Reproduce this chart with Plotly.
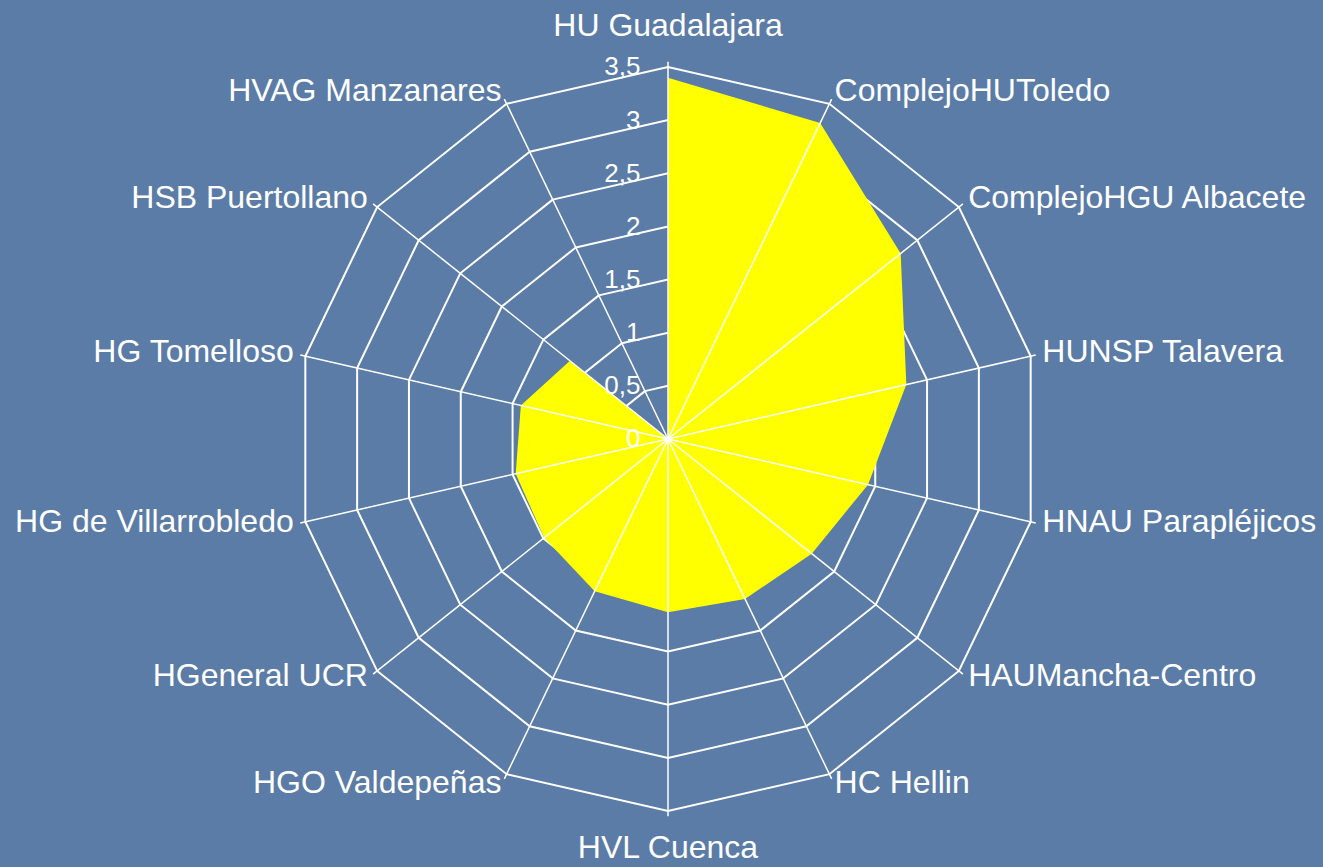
import plotly.graph_objects as go

categories = ["HU Guadalajara", "ComplejoHUToledo", "ComplejoHGU Albacete", "HUNSP Talavera",
              "HNAU Parapléjicos", "HAUMancha-Centro", "HC Hellin", "HVL Cuenca",
              "HGO Valdepeñas", "HGeneral UCR", "HG de Villarrobledo", "HG Tomelloso",
              "HSB Puertollano", "HVAG Manzanares"]
values = [3.4, 3.3, 2.8, 2.3, 1.93, 1.73, 1.67, 1.63, 1.59, 1.49, 1.47, 1.42, 1.18, 0.0]
radial_max = 3.5
tick_vals = [0, 0.5, 1, 1.5, 2, 2.5, 3, 3.5]

W, H = 1323, 867
cx, cy, R = 668, 439, 372          # centre and pixel radius of the 3.5 ring
side_label_factor = 1.032          # label radius relative to outer ring, side labels
pole_label_factor = 1.106          # label radius for top / bottom labels
tick_ext = 1.014                   # small outward tick at each vertex
axis_max = radial_max * pole_label_factor
R_axis = R * axis_max / radial_max

fig = go.Figure()
fig.add_trace(go.Scatterpolar(
    r=values + [values[0]], theta=categories + [categories[0]],
    fill="toself", fillcolor="#FFFF00", mode="lines",
    line=dict(color="#FFFF00", width=0), hoverinfo="skip", showlegend=False))

# category spokes drawn over the fill (with a small outward tick)
sr, st = [], []
for c in categories:
    sr += [0, radial_max * tick_ext, None]
    st += [c, c, None]
fig.add_trace(go.Scatterpolar(r=sr, theta=st, mode="lines",
                              line=dict(color="white", width=1.5),
                              hoverinfo="skip", showlegend=False, connectgaps=False))

# category labels outside the outer ring
n = len(categories)
half = n // 2
side_idx = [i for i in range(n) if i not in (0, half)]
pole_idx = [0, half]
label_font = dict(size=32, color="white", family="Liberation Sans, Arial, sans-serif")
fig.add_trace(go.Scatterpolar(
    r=[radial_max * side_label_factor] * len(side_idx),
    theta=[categories[i] for i in side_idx],
    mode="text", text=[categories[i] for i in side_idx],
    textposition=["middle right" if i < half else "middle left" for i in side_idx],
    cliponaxis=False, textfont=label_font, hoverinfo="skip", showlegend=False))
fig.add_trace(go.Scatterpolar(
    r=[radial_max * pole_label_factor] * 2,
    theta=[categories[i] for i in pole_idx],
    mode="text", text=[categories[i] for i in pole_idx],
    textposition="middle center",
    cliponaxis=False, textfont=label_font, hoverinfo="skip", showlegend=False))

fig.update_layout(
    width=W, height=H,
    margin=dict(l=0, r=0, t=0, b=0),
    paper_bgcolor="#5B7CA6",
    font=dict(family="Liberation Sans, Arial, sans-serif", color="white"),
    separators=", ",
    polar=dict(
        domain=dict(x=[(cx - R_axis) / W, (cx + R_axis) / W],
                    y=[(H - cy - R_axis) / H, (H - cy + R_axis) / H]),
        bgcolor="rgba(0,0,0,0)",
        gridshape="linear",
        angularaxis=dict(rotation=90, direction="clockwise", categoryarray=categories,
                         categoryorder="array", showticklabels=False, ticks="",
                         showgrid=False, showline=False),
        radialaxis=dict(range=[0, axis_max], tickvals=tick_vals, angle=90,
                        side="counterclockwise", tickangle=90,
                        showgrid=True, gridcolor="white", gridwidth=1.5,
                        showline=False,
                        ticks="outside", ticklen=18, tickcolor="rgba(0,0,0,0)",
                        tickfont=dict(size=26, color="white"))))

fig.write_html("out.html", config={"displayModeBar": False},
               post_script="document.body.style.margin='0px';document.body.style.overflow='hidden';")
